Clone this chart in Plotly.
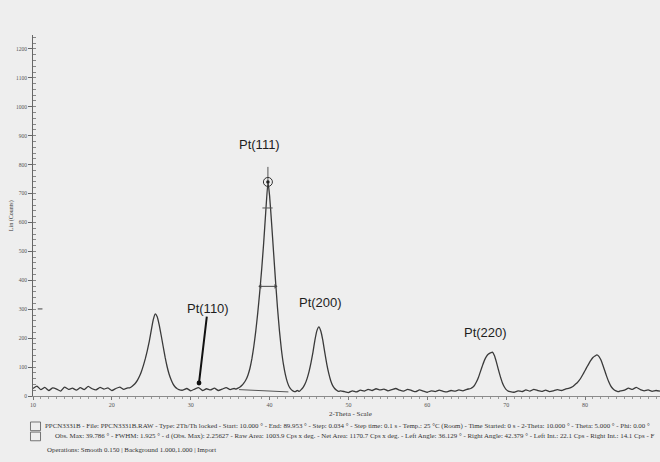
import plotly.graph_objects as go

# Diffractogram of sample PPCN3331B: 2-theta (deg) vs. intensity (counts)
two_theta = [
    10.0, 10.5, 11.0, 11.5, 12.0, 12.5, 13.0, 13.5, 14.0, 14.5, 15.0, 15.5, 16.0,
    16.5, 17.0, 17.5, 18.0, 18.5, 19.0, 19.5, 20.0, 20.5, 21.0, 21.5, 22.0,
    22.25, 22.5, 22.75, 23.0, 23.25, 23.5, 23.75, 24.0, 24.25, 24.5, 24.75, 25.0,
    25.25, 25.5, 25.75, 26.0, 26.25, 26.5, 26.75, 27.0, 27.25, 27.5, 27.75, 28.0,
    28.25, 28.5,
    29.0, 29.5, 30.0, 30.5, 31.0, 31.5, 32.0, 32.5, 33.0, 33.5, 34.0, 34.5, 35.0, 35.5,
    35.75, 36.0, 36.25, 36.5, 36.75, 37.0, 37.25, 37.5, 37.75, 38.0, 38.25, 38.5,
    38.75, 39.0, 39.25, 39.5, 39.79, 40.0, 40.25, 40.5, 40.75, 41.0, 41.25, 41.5,
    41.75, 42.0, 42.25, 42.5, 42.75, 43.0,
    43.25, 43.5, 43.75,
    44.0, 44.25, 44.5, 44.75, 45.0, 45.25, 45.5, 45.75, 46.0, 46.25, 46.5, 46.75,
    47.0, 47.25, 47.5, 47.75, 48.0, 48.25, 48.5, 48.75, 49.0,
    49.5, 50.0, 50.5, 51.0, 51.5, 52.0, 52.5, 53.0, 53.5, 54.0, 54.5, 55.0, 55.5,
    56.0, 56.5, 57.0, 57.5, 58.0, 58.5, 59.0, 59.5, 60.0, 60.5, 61.0, 61.5, 62.0,
    62.5, 63.0, 63.5, 64.0, 64.5, 65.0, 65.5,
    65.75, 66.0, 66.25, 66.5, 66.75, 67.0, 67.25, 67.5, 67.75, 68.0, 68.25, 68.5,
    68.75, 69.0, 69.25, 69.5, 69.75, 70.0, 70.25, 70.5,
    71.0, 71.5, 72.0, 72.5, 73.0, 73.5, 74.0, 74.5, 75.0, 75.5, 76.0, 76.5, 77.0,
    77.5, 78.0,
    78.25, 78.5, 78.75, 79.0, 79.25, 79.5, 79.75, 80.0, 80.25, 80.5, 80.75, 81.0,
    81.25, 81.5, 81.75, 82.0, 82.25, 82.5, 82.75, 83.0, 83.25, 83.5, 83.75, 84.0,
    84.25, 84.5,
    85.0, 85.5, 86.0, 86.5, 87.0, 87.5, 88.0, 88.5, 89.0, 89.5,
]

counts = [
    26, 34, 22, 30, 19, 28, 24, 17, 31, 23, 27, 20, 29,
    22, 33, 25, 21, 30, 24, 28, 19, 26, 31, 23, 28,
    28, 32, 38, 45, 55, 68, 85, 106, 130, 158, 190, 228,
    264, 284, 274, 246, 210, 172, 134, 102, 76, 57, 42, 32,
    26, 22,
    20, 26, 18, 24, 29, 19, 25, 21, 27, 19, 24, 29, 22, 26,
    24, 27, 31, 37, 45, 56, 72, 95, 128, 172, 225, 288,
    360, 440, 530, 632, 740, 692, 598, 498, 398, 305, 225, 160,
    110, 74, 48, 31, 22, 17,
    15, 19, 16,
    22, 30, 42, 60, 84, 115, 152, 194, 226, 239, 224, 192,
    150, 110, 78, 53, 36, 26, 20, 16, 18,
    15, 12, 18, 14, 20, 17, 23, 19, 25, 21, 24, 18, 22,
    26, 20, 17, 23, 19, 15, 21, 17, 13, 18, 15, 20, 16,
    14, 19, 17, 21, 18, 23, 26,
    30, 38, 50, 66, 86, 106, 124, 137, 145, 149, 152, 140,
    118, 92, 68, 47, 32, 22, 17, 15,
    13, 18, 15, 21, 17, 23, 19, 16, 20, 15, 18, 22, 19,
    24, 27,
    30, 34, 40, 46, 54, 64, 76, 88, 101, 113, 124, 133,
    138, 142, 137, 125, 107, 87, 67, 49, 35, 26, 20, 17,
    15, 18,
    20, 27, 23, 30, 22, 18, 21, 16, 19, 17,
]

# Peak evaluation of Pt(111)
obs_max_tt = 39.786
obs_max_counts = 740
fwhm = 1.925
left_angle, right_angle = 36.129, 42.379
left_int, right_int = 22.1, 14.1

peak_labels = ["Pt(111)", "Pt(110)", "Pt(200)", "Pt(220)"]
peak_label_tt = [38.66, 32.19, 46.39, 67.32]
peak_label_counts = [868, 304, 322, 221]

y_ticks = list(range(0, 1201, 100))
x_ticks = list(range(10, 81, 10))

footer_lines = [
    "PPCN3331B - File: PPCN3331B.RAW - Type: 2Th/Th locked - Start: 10.000 \u00b0 - End: 89.953 \u00b0 - "
    "Step: 0.034 \u00b0 - Step time: 0.1 s - Temp.: 25 \u00b0C (Room) - Time Started: 0 s - "
    "2-Theta: 10.000 \u00b0 - Theta: 5.000 \u00b0 - Phi: 0.00 \u00b0",
    "Obs. Max: 39.786 \u00b0 - FWHM: 1.925 \u00b0 - d (Obs. Max): 2.25627 - Raw Area: 1003.9 Cps x deg. - "
    "Net Area: 1170.7 Cps x deg. - Left Angle: 36.129 \u00b0 - Right Angle: 42.379 \u00b0 - "
    "Left Int.: 22.1 Cps - Right Int.: 14.1 Cps - F",
    "Operations: Smooth 0.150 | Background 1.000,1.000 | Import",
]

assert len(two_theta) == len(counts)

BG = "#eeeeee"
INK = "#3a3a3a"

fig = go.Figure()

# measured pattern
fig.add_trace(go.Scatter(
    x=two_theta, y=counts, mode="lines",
    line=dict(color=INK, width=1.3, shape="spline", smoothing=0.4),
    hoverinfo="skip", showlegend=False,
))

# background line under the evaluated peak
fig.add_trace(go.Scatter(
    x=[left_angle, right_angle], y=[left_int, right_int], mode="lines",
    line=dict(color="#555555", width=1), showlegend=False, hoverinfo="skip",
))

# FWHM bar
half = (obs_max_counts + (left_int + right_int) / 2) / 2
fig.add_trace(go.Scatter(
    x=[obs_max_tt - fwhm / 2, obs_max_tt + fwhm / 2], y=[half, half],
    mode="lines+markers",
    line=dict(color="#444444", width=1),
    marker=dict(symbol=["triangle-left", "triangle-right"], size=4, color="#444444"),
    showlegend=False, hoverinfo="skip",
))

# peak-maximum marker with stem
fig.add_trace(go.Scatter(
    x=[obs_max_tt, obs_max_tt], y=[obs_max_counts, obs_max_counts + 52],
    mode="lines", line=dict(color="#555555", width=1),
    showlegend=False, hoverinfo="skip",
))
fig.add_trace(go.Scatter(
    x=[obs_max_tt], y=[obs_max_counts], mode="markers",
    marker=dict(symbol="circle", size=9, color="rgba(0,0,0,0)",
                line=dict(color="#333333", width=1)),
    showlegend=False, hoverinfo="skip",
))
fig.add_trace(go.Scatter(
    x=[obs_max_tt], y=[obs_max_counts], mode="markers",
    marker=dict(symbol="circle", size=3.5, color="#222222"),
    showlegend=False, hoverinfo="skip",
))
fig.add_trace(go.Scatter(
    x=[obs_max_tt - 0.7, obs_max_tt + 0.6], y=[650, 650], mode="lines",
    line=dict(color="#555555", width=1), showlegend=False, hoverinfo="skip",
))

annotations = []
for txt, tx, ty in zip(peak_labels, peak_label_tt, peak_label_counts):
    annotations.append(dict(
        x=tx, y=ty, xref="x", yref="y", text=txt, showarrow=False,
        xanchor="center", yanchor="middle",
        font=dict(family="Liberation Sans, Arial", size=13, color="#1e1e1e"),
    ))

# arrow pointing at the Pt(110) position
annotations.append(dict(
    x=31.05, y=45, xref="x", yref="y", ax=32.06, ay=280, axref="x", ayref="y",
    text="", showarrow=True, arrowhead=6, arrowsize=0.6, arrowwidth=2,
    arrowcolor="#111111",
))

annotations.append(dict(
    x=0.507, y=-0.049, xref="paper", yref="paper", text="2-Theta - Scale",
    xanchor="center", yanchor="middle",
    showarrow=False, font=dict(family="Liberation Serif", size=7, color="#333333"),
))
annotations.append(dict(
    x=-0.034, y=0.50, xref="paper", yref="paper", text="Lin (Counts)", textangle=-90,
    xanchor="center", yanchor="middle",
    showarrow=False, font=dict(family="Liberation Serif", size=6, color="#333333"),
))
footer_pos = [(0.016, -0.084), (0.032, -0.112), (0.019, -0.147)]
for line, (fx, fy) in zip(footer_lines, footer_pos):
    annotations.append(dict(
        x=fx, y=fy, xref="paper", yref="paper", text=line, showarrow=False,
        xanchor="left", yanchor="middle",
        font=dict(family="Liberation Serif", size=6.9, color="#333333"),
    ))

fig.update_layout(
    width=660, height=462,
    margin=dict(l=33, r=0, t=35, b=66),
    paper_bgcolor=BG, plot_bgcolor=BG,
    annotations=annotations,
    shapes=[
        dict(type="rect", xref="paper", yref="paper", x0=-0.004, x1=0.012, y0=-0.096, y1=-0.072,
             line=dict(color="#555555", width=0.8)),
        dict(type="rect", xref="paper", yref="paper", x0=-0.004, x1=0.012, y0=-0.124, y1=-0.100,
             line=dict(color="#555555", width=0.8)),
        dict(type="line", xref="x", yref="y", x0=10.6, x1=11.2, y0=301, y1=301,
             line=dict(color="#444444", width=1)),
    ],
    xaxis=dict(
        range=[10, 89.5], tickvals=x_ticks, ticktext=[str(v) for v in x_ticks],
        showgrid=False, zeroline=False, showline=True, linecolor="#8a8a8a", linewidth=1,
        ticks="outside", ticklen=3, tickcolor="#777777",
        minor=dict(dtick=1, ticks="outside", ticklen=2, tickcolor="#999999"),
        tickfont=dict(family="Liberation Serif", size=6, color="#555555"),
    ),
    yaxis=dict(
        range=[0, 1248], tickvals=y_ticks, ticktext=[str(v) for v in y_ticks],
        showgrid=False, zeroline=False, showline=True, linecolor="#666666", linewidth=1,
        ticks="outside", ticklen=4, tickcolor="#666666",
        minor=dict(dtick=20, ticks="inside", ticklen=3, tickcolor="#888888"),
        tickfont=dict(family="Liberation Serif", size=5.5, color="#555555"),
    ),
)

fig.write_html("out.html")
